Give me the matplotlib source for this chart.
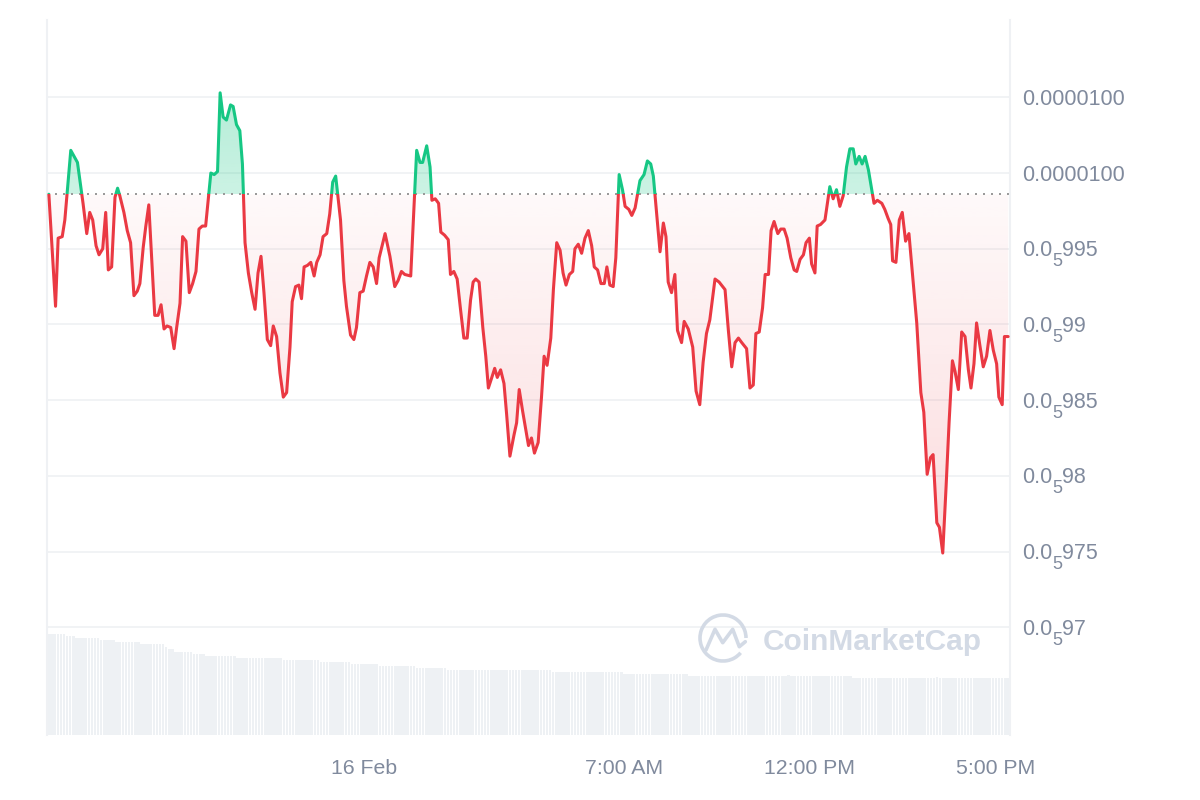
import numpy as np
import matplotlib.pyplot as plt
from matplotlib.colors import to_rgb
from matplotlib.patches import Rectangle, PathPatch, Arc
from matplotlib.transforms import blended_transform_factory

plt.rcParams['font.family'] = ['Liberation Sans', 'DejaVu Sans']

# time in hours relative to 16 Feb 00:00
hours = [
    -8.48, -8.30, -8.23, -8.12, -8.05, -7.89, -7.80, -7.71, -7.56, -7.46,
    -7.38, -7.30, -7.21, -7.13, -7.03, -6.95, -6.88, -6.79, -6.70, -6.63,
    -6.57, -6.46, -6.37, -6.28, -6.19, -6.10, -6.03, -5.94, -5.87, -5.79,
    -5.69, -5.63, -5.54, -5.46, -5.38, -5.30, -5.20, -5.11, -5.04, -4.95,
    -4.88, -4.79, -4.70, -4.61, -4.52, -4.44, -4.35, -4.26, -4.12, -4.03,
    -3.94, -3.87, -3.79, -3.70, -3.59, -3.52, -3.43, -3.34, -3.27, -3.20,
    -3.11, -3.02, -2.93, -2.85, -2.77, -2.69, -2.60, -2.51, -2.44, -2.35,
    -2.26, -2.17, -2.08, -1.99, -1.93, -1.84, -1.75, -1.68, -1.61, -1.52,
    -1.43, -1.34, -1.27, -1.18, -1.10, -1.00, -0.92, -0.84, -0.76, -0.63,
    -0.54, -0.47, -0.36, -0.27, -0.20, -0.11, -0.02, 0.07, 0.16, 0.25,
    0.34, 0.41, 0.57, 0.70, 0.83, 0.92, 1.01, 1.10, 1.26, 1.42,
    1.51, 1.58, 1.69, 1.78, 1.83, 1.92, 2.01, 2.07, 2.17, 2.27,
    2.33, 2.42, 2.51, 2.60, 2.69, 2.78, 2.87, 2.94, 3.01, 3.10,
    3.20, 3.28, 3.35, 3.43, 3.52, 3.59, 3.68, 3.77, 3.84, 3.93,
    4.04, 4.11, 4.18, 4.27, 4.36, 4.43, 4.51, 4.59, 4.69, 4.78,
    4.85, 4.93, 5.03, 5.10, 5.19, 5.28, 5.36, 5.44, 5.53, 5.62,
    5.68, 5.77, 5.86, 5.95, 6.04, 6.13, 6.20, 6.29, 6.38, 6.47,
    6.54, 6.62, 6.71, 6.78, 6.87, 6.96, 7.03, 7.13, 7.21, 7.30,
    7.43, 7.54, 7.63, 7.72, 7.79, 7.90, 7.97, 8.06, 8.13, 8.19,
    8.28, 8.37, 8.44, 8.55, 8.62, 8.73, 8.85, 8.94, 9.04, 9.13,
    9.22, 9.31, 9.45, 9.56, 9.72, 9.81, 9.90, 9.99, 10.08, 10.17,
    10.30, 10.39, 10.48, 10.55, 10.64, 10.73, 10.80, 10.89, 10.96, 11.04,
    11.14, 11.22, 11.31, 11.39, 11.49, 11.58, 11.65, 11.74, 11.83, 11.90,
    11.99, 12.05, 12.14, 12.20, 12.29, 12.41, 12.54, 12.63, 12.72, 12.81,
    12.90, 12.99, 13.08, 13.17, 13.24, 13.33, 13.41, 13.49, 13.58, 13.73,
    13.82, 13.94, 14.02, 14.11, 14.18, 14.23, 14.32, 14.41, 14.49, 14.58,
    14.67, 14.77, 14.88, 14.99, 15.07, 15.16, 15.25, 15.32, 15.42, 15.49,
    15.58, 15.67, 15.75, 15.84, 15.91, 16.00, 16.09, 16.18, 16.27, 16.34,
    16.42, 16.49, 16.58, 16.67, 16.76, 16.85, 16.94, 17.03, 17.09, 17.18,
    17.24, 17.34,
]

# price in units of 1e-6 USD
price = [
    9.986, 9.912, 9.957, 9.958, 9.969, 10.015, 10.011, 10.007, 9.980, 9.960,
    9.974, 9.969, 9.952, 9.946, 9.950, 9.974, 9.936, 9.938, 9.984, 9.990,
    9.985, 9.974, 9.962, 9.954, 9.919, 9.922, 9.927, 9.951, 9.965, 9.979,
    9.934, 9.906, 9.906, 9.913, 9.897, 9.899, 9.898, 9.884, 9.898, 9.914,
    9.958, 9.955, 9.921, 9.927, 9.935, 9.963, 9.965, 9.965, 10.000, 9.999,
    10.001, 10.053, 10.037, 10.035, 10.045, 10.044, 10.032, 10.028, 10.006, 9.954,
    9.934, 9.921, 9.910, 9.934, 9.945, 9.921, 9.890, 9.886, 9.899, 9.892,
    9.868, 9.852, 9.855, 9.885, 9.915, 9.925, 9.926, 9.917, 9.938, 9.939,
    9.941, 9.932, 9.941, 9.946, 9.958, 9.960, 9.973, 9.994, 9.998, 9.969,
    9.929, 9.912, 9.893, 9.890, 9.898, 9.921, 9.922, 9.932, 9.941, 9.938,
    9.927, 9.944, 9.960, 9.945, 9.925, 9.929, 9.935, 9.933, 9.932, 10.015,
    10.007, 10.007, 10.018, 10.004, 9.982, 9.983, 9.980, 9.961, 9.959, 9.956,
    9.933, 9.935, 9.930, 9.910, 9.891, 9.891, 9.916, 9.928, 9.930, 9.928,
    9.898, 9.879, 9.858, 9.864, 9.871, 9.865, 9.870, 9.861, 9.841, 9.813,
    9.827, 9.835, 9.857, 9.843, 9.830, 9.820, 9.825, 9.815, 9.822, 9.852,
    9.879, 9.873, 9.891, 9.923, 9.954, 9.949, 9.934, 9.926, 9.933, 9.935,
    9.950, 9.953, 9.947, 9.957, 9.962, 9.952, 9.938, 9.936, 9.927, 9.927,
    9.938, 9.926, 9.925, 9.944, 9.999, 9.989, 9.978, 9.976, 9.972, 9.977,
    9.995, 9.999, 10.008, 10.006, 9.998, 9.967, 9.948, 9.967, 9.958, 9.928,
    9.921, 9.933, 9.896, 9.888, 9.902, 9.897, 9.885, 9.856, 9.847, 9.875,
    9.894, 9.903, 9.930, 9.928, 9.923, 9.896, 9.872, 9.888, 9.891, 9.888,
    9.884, 9.858, 9.860, 9.894, 9.895, 9.911, 9.933, 9.933, 9.962, 9.968,
    9.960, 9.963, 9.963, 9.957, 9.944, 9.936, 9.935, 9.943, 9.946, 9.954,
    9.957, 9.940, 9.934, 9.965, 9.966, 9.969, 9.991, 9.983, 9.989, 9.978,
    9.985, 10.004, 10.016, 10.016, 10.006, 10.011, 10.006, 10.011, 10.002, 9.980,
    9.982, 9.980, 9.976, 9.970, 9.966, 9.942, 9.941, 9.969, 9.974, 9.955,
    9.960, 9.932, 9.901, 9.855, 9.842, 9.801, 9.812, 9.814, 9.769, 9.766,
    9.749, 9.793, 9.835, 9.876, 9.869, 9.857, 9.895, 9.892, 9.870, 9.858,
    9.874, 9.901, 9.886, 9.872, 9.879, 9.896, 9.883, 9.874, 9.852, 9.847,
    9.892, 9.892,
]
open_price = 9.986

# volume (arbitrary units), constant in steps of 5-minute bars
vol_levels = [100.7, 98.7, 96.7, 94.7, 92.7, 90.7, 88.3, 86.0, 82.7, 80.7,
              78.7, 76.7, 74.7, 72.7, 70.7, 68.7, 66.7, 65.0, 62.7, 60.7,
              58.7, 60.3, 58.7, 56.7, 58.0, 56.7]
vol_counts = [6, 3, 8, 5, 8, 8, 1, 2, 6, 4,
              10, 15, 12, 10, 9, 12, 10, 34, 23, 21,
              32, 1, 20, 27, 1, 23]
vol_start = -8.53
vol_step = 1 / 12

x_min, x_max = -8.53, 17.39
y_min, y_max = 9.6288, 10.1011

# y tick labels: (plain text, subscript zero count, significant digits)
yticks = [10.05, 10.0, 9.95, 9.9, 9.85, 9.8, 9.75, 9.7]
ytick_labels = [('0.0000100', '', ''), ('0.0000100', '', ''),
                ('0.0', '5', '995'), ('0.0', '5', '99'),
                ('0.0', '5', '985'), ('0.0', '5', '98'),
                ('0.0', '5', '975'), ('0.0', '5', '97')]
xticks = [0, 7, 12, 17]
xtick_labels = ['16 Feb', '7:00 AM', '12:00 PM', '5:00 PM']

RED = '#ea3943'
GREEN = '#16c784'
GREY = '#808a9d'

fig = plt.figure(figsize=(12, 8), dpi=100)
rect = [47 / 1200, 65 / 800, 963 / 1200, 715 / 800]
axv = fig.add_axes(rect)
ax = fig.add_axes(rect, sharex=axv)
ax.patch.set_visible(False)

# volume bars
vol = np.repeat(vol_levels, vol_counts)
vt = vol_start + (np.arange(len(vol)) + 0.5) * vol_step
axv.bar(vt, vol, width=vol_step * 0.82, color='#eef1f4', linewidth=0)
axv.set_ylim(0, 715)
axv.axis('off')

t = np.array(hours)
p = np.array(price)

# area between price and opening price, filled with gradients
fb = ax.fill_between(t, p, open_price, facecolor='none', edgecolor='none')
clip = PathPatch(fb.get_paths()[0], transform=ax.transData,
                 facecolor='none', edgecolor='none')
ax.add_patch(clip)

red_grad = np.zeros((256, 1, 4))
red_grad[..., :3] = to_rgb(RED)
red_grad[:, 0, 3] = np.linspace(0.26, 0.03, 256)
im_r = ax.imshow(red_grad, extent=[x_min, x_max, y_min, open_price],
                 origin='lower', aspect='auto', zorder=1, interpolation='bilinear')
im_r.set_clip_path(clip)

green_grad = np.zeros((256, 1, 4))
green_grad[..., :3] = to_rgb(GREEN)
green_grad[:, 0, 3] = np.linspace(0.22, 0.4, 256)
im_g = ax.imshow(green_grad, extent=[x_min, x_max, open_price, y_max],
                 origin='lower', aspect='auto', zorder=1, interpolation='bilinear')
im_g.set_clip_path(clip)

ax.axhline(open_price, color='#9a9a9a', lw=1.44, linestyle=(0, (1, 3)), zorder=2)

below = Rectangle((x_min, y_min), x_max - x_min, open_price - y_min, transform=ax.transData)
above = Rectangle((x_min, open_price), x_max - x_min, y_max - open_price, transform=ax.transData)
line_r, = ax.plot(t, p, color=RED, lw=2.2, solid_joinstyle='round', solid_capstyle='round', zorder=3)
line_r.set_clip_path(below)
line_g, = ax.plot(t, p, color=GREEN, lw=2.2, solid_joinstyle='round', solid_capstyle='round', zorder=3)
line_g.set_clip_path(above)

ax.set_xlim(x_min, x_max)
ax.set_ylim(y_min, y_max)
ax.yaxis.tick_right()
ax.set_yticks(yticks)
ax.set_yticklabels([])
ax.set_xticks(xticks)
ax.set_xticklabels(xtick_labels)
ax.tick_params(axis='y', length=0)
ax.tick_params(axis='x', length=0, pad=17, labelsize=15.3, labelcolor=GREY)
ax.yaxis.grid(True, color='#eff1f4', lw=1.2)
ax.set_axisbelow(True)
for s in ['top', 'bottom']:
    ax.spines[s].set_visible(False)
for s in ['left', 'right']:
    ax.spines[s].set_color('#eff1f4')
    ax.spines[s].set_linewidth(1.5)

# price labels with subscript zero count, drawn piece by piece
trans = blended_transform_factory(ax.transAxes, ax.transData)
fs_main, fs_sub = 15.5, 13
for v, (head, sub, tail) in zip(yticks, ytick_labels):
    ax.annotate(head, (1, v), xycoords=trans, xytext=(8.8, -5.5),
                textcoords='offset points', fontsize=fs_main, color=GREY,
                va='baseline', ha='left', annotation_clip=False)
    if sub:
        x_sub = 8.8 + 1.39 * fs_main
        ax.annotate(sub, (1, v), xycoords=trans, xytext=(x_sub, -12.7),
                    textcoords='offset points', fontsize=fs_sub, color=GREY,
                    va='baseline', ha='left', annotation_clip=False)
        ax.annotate(tail, (1, v), xycoords=trans,
                    xytext=(x_sub + 0.556 * fs_sub, -5.5),
                    textcoords='offset points', fontsize=fs_main, color=GREY,
                    va='baseline', ha='left', annotation_clip=False)

# watermark
ov = fig.add_axes([0, 0, 1, 1], zorder=5)
ov.set_xlim(0, 1200)
ov.set_ylim(800, 0)
ov.axis('off')
wm = '#d3dae5'
ov.add_patch(Arc((723, 638), 46, 46, theta1=40, theta2=360, color=wm, lw=2.6))
ov.plot([706, 715, 722.7, 732.7, 739.3, 745.3], [650, 629.3, 642.7, 629.3, 646.7, 641.7],
        color=wm, lw=2.6, solid_joinstyle='round', solid_capstyle='round')
ov.text(763, 642, 'CoinMarketCap', fontsize=21.5, fontweight='bold', color=wm,
        va='center', ha='left')

fig.savefig('out.png', dpi=100)
